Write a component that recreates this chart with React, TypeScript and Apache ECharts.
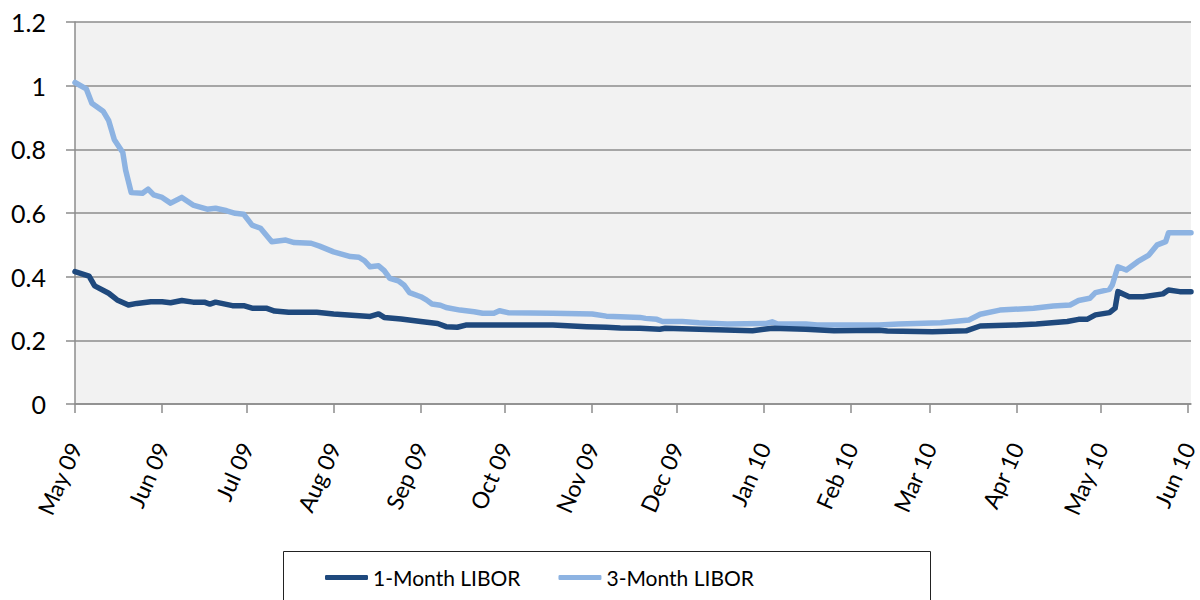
import React, { useEffect, useRef } from "react";
import * as echarts from "echarts";

// ---- Data -------------------------------------------------------------
const axisStartDate = "2009-05-01";
const axisEndDate = "2010-06-02";

const monthTickDates = [
  "2009-05-01", "2009-06-01", "2009-07-01", "2009-08-01", "2009-09-01",
  "2009-10-01", "2009-11-01", "2009-12-01", "2010-01-01", "2010-02-01",
  "2010-03-01", "2010-04-01", "2010-05-01", "2010-06-01",
];
const monthTickLabels = [
  "May 09", "Jun 09", "Jul 09", "Aug 09", "Sep 09", "Oct 09", "Nov 09",
  "Dec 09", "Jan 10", "Feb 10", "Mar 10", "Apr 10", "May 10", "Jun 10",
];

const yTickValues = [0, 0.2, 0.4, 0.6, 0.8, 1, 1.2];

const seriesNames = ["1-Month LIBOR", "3-Month LIBOR"];

const oneMonthDates = [
  "2009-05-01", "2009-05-06", "2009-05-08", "2009-05-13", "2009-05-16",
  "2009-05-20", "2009-05-23", "2009-05-28", "2009-06-01", "2009-06-04",
  "2009-06-08", "2009-06-12", "2009-06-16", "2009-06-18", "2009-06-20",
  "2009-06-26", "2009-06-30", "2009-07-03", "2009-07-08", "2009-07-11",
  "2009-07-16", "2009-07-26", "2009-08-01", "2009-08-14", "2009-08-17",
  "2009-08-19", "2009-08-25", "2009-09-01", "2009-09-07", "2009-09-10",
  "2009-09-14", "2009-09-17", "2009-10-18", "2009-10-30", "2009-11-06",
  "2009-11-11", "2009-11-18", "2009-11-25", "2009-11-27", "2009-12-09",
  "2009-12-28", "2010-01-04", "2010-01-16", "2010-01-26", "2010-02-11",
  "2010-02-14", "2010-03-02", "2010-03-14", "2010-03-19", "2010-03-31",
  "2010-04-08", "2010-04-19", "2010-04-23", "2010-04-26", "2010-04-29",
  "2010-05-04", "2010-05-06", "2010-05-07", "2010-05-11", "2010-05-16",
  "2010-05-23", "2010-05-25", "2010-05-29", "2010-06-02",
];
const oneMonthValues = [
  0.416, 0.402, 0.371, 0.348, 0.327,
  0.311, 0.316, 0.321, 0.321, 0.318,
  0.325, 0.32, 0.32, 0.314, 0.32,
  0.309, 0.309, 0.301, 0.301, 0.292,
  0.288, 0.288, 0.283, 0.275, 0.283,
  0.272, 0.267, 0.259, 0.253, 0.243,
  0.241, 0.248, 0.248, 0.243, 0.241,
  0.239, 0.238, 0.235, 0.238, 0.235,
  0.23, 0.238, 0.235, 0.23, 0.232,
  0.229, 0.227, 0.23, 0.245, 0.248,
  0.251, 0.259, 0.266, 0.266, 0.28,
  0.287, 0.301, 0.353, 0.337, 0.337,
  0.346, 0.358, 0.353, 0.353,
];

const threeMonthDates = [
  "2009-05-01", "2009-05-05", "2009-05-07", "2009-05-11", "2009-05-13",
  "2009-05-15", "2009-05-18", "2009-05-19", "2009-05-21", "2009-05-25",
  "2009-05-27", "2009-05-29", "2009-06-01", "2009-06-04", "2009-06-08",
  "2009-06-12", "2009-06-17", "2009-06-20", "2009-06-24", "2009-06-27",
  "2009-06-30", "2009-07-03", "2009-07-06", "2009-07-10", "2009-07-15",
  "2009-07-18", "2009-07-24", "2009-07-27", "2009-08-01", "2009-08-07",
  "2009-08-10", "2009-08-12", "2009-08-14", "2009-08-17", "2009-08-19",
  "2009-08-21", "2009-08-24", "2009-08-26", "2009-08-28", "2009-09-01",
  "2009-09-03", "2009-09-05", "2009-09-08", "2009-09-10", "2009-09-15",
  "2009-09-20", "2009-09-23", "2009-09-27", "2009-09-29", "2009-10-02",
  "2009-10-18", "2009-11-01", "2009-11-06", "2009-11-11", "2009-11-18",
  "2009-11-20", "2009-11-24", "2009-11-26", "2009-12-03", "2009-12-09",
  "2009-12-19", "2010-01-02", "2010-01-04", "2010-01-06", "2010-01-16",
  "2010-01-20", "2010-02-11", "2010-02-18", "2010-03-05", "2010-03-15",
  "2010-03-19", "2010-03-26", "2010-04-07", "2010-04-14", "2010-04-20",
  "2010-04-23", "2010-04-27", "2010-04-29", "2010-05-04", "2010-05-05",
  "2010-05-07", "2010-05-10", "2010-05-14", "2010-05-18", "2010-05-21",
  "2010-05-24", "2010-05-25", "2010-06-02",
];
const threeMonthValues = [
  1.01, 0.99, 0.945, 0.92, 0.89,
  0.83, 0.79, 0.735, 0.664, 0.662,
  0.675, 0.657, 0.649, 0.631, 0.649,
  0.625, 0.612, 0.615, 0.607, 0.599,
  0.596, 0.562, 0.552, 0.51, 0.515,
  0.507, 0.505, 0.496, 0.478, 0.463,
  0.461, 0.45, 0.431, 0.434, 0.419,
  0.395, 0.387, 0.374, 0.35, 0.337,
  0.327, 0.314, 0.31, 0.303, 0.295,
  0.29, 0.285, 0.285, 0.293, 0.287,
  0.285, 0.283, 0.276, 0.274, 0.272,
  0.269, 0.266, 0.259, 0.259, 0.255,
  0.251, 0.253, 0.258, 0.251, 0.251,
  0.248, 0.248, 0.251, 0.255, 0.264,
  0.282, 0.295, 0.301, 0.308, 0.311,
  0.325, 0.332, 0.35, 0.36, 0.374,
  0.431, 0.421, 0.447, 0.468, 0.5,
  0.51, 0.538, 0.538,
];

// ---- Helpers ----------------------------------------------------------
function dayIndex(s: string): number {
  const [y, m, d] = s.split("-").map(Number);
  const [y0, m0, d0] = axisStartDate.split("-").map(Number);
  return Math.round((Date.UTC(y, m - 1, d) - Date.UTC(y0, m0 - 1, d0)) / 86400000);
}

const FONT = "Lato, 'Noto Sans', sans-serif";

export default function App() {
  const ref = useRef<HTMLDivElement>(null);

  useEffect(() => {
    if (!ref.current) return;
    const chart = echarts.init(ref.current, undefined, { renderer: "svg" });

    const tickDays = monthTickDates.map(dayIndex);
    const labelByDay: Record<number, string> = {};
    tickDays.forEach((d, i) => (labelByDay[d] = monthTickLabels[i]));

    const oneData = oneMonthDates.map((d, i) => [dayIndex(d), oneMonthValues[i]]);
    const threeData = threeMonthDates.map((d, i) => [dayIndex(d), threeMonthValues[i]]);

    const gridColor = "#8c8c8c";

    chart.setOption({
      animation: false,
      backgroundColor: "#ffffff",
      textStyle: { fontFamily: FONT },
      grid: {
        left: 75,
        top: 22,
        right: 9,
        bottom: 196,
        show: true,
        backgroundColor: "#f2f2f2",
        borderWidth: 0,
        containLabel: false,
        outerBoundsMode: "none",
      },
      legend: {
        left: 320,
        top: 562,
        itemWidth: 43,
        itemHeight: 5,
        itemGap: 38,
        icon: "roundRect",
        textStyle: { fontFamily: FONT, fontSize: 21, color: "#000" },
        data: seriesNames,
      },
      graphic: [
        {
          type: "rect",
          shape: { x: 283.5, y: 551.5, width: 647, height: 60 },
          style: { fill: "none", stroke: "#222", lineWidth: 1 },
          silent: true,
        },
      ],
      xAxis: {
        type: "value",
        min: 0,
        max: dayIndex(axisEndDate),
        splitLine: { show: false },
        axisLine: { show: true, onZero: false, lineStyle: { color: gridColor, width: 1.5 } },
        axisTick: {
          show: true,
          length: 9,
          customValues: tickDays,
          lineStyle: { color: gridColor, width: 1.5 },
        },
        axisLabel: {
          customValues: tickDays,
          rotate: 66,
          margin: 40,
          fontSize: 23,
          fontFamily: FONT,
          color: "#000",
          formatter: (v: number) => labelByDay[Math.round(v)] ?? "",
        },
      },
      yAxis: {
        type: "value",
        min: 0,
        max: 1.2,
        interval: 0.2,
        axisLine: { show: true, lineStyle: { color: gridColor, width: 1.5 } },
        axisTick: { show: true, length: 9, lineStyle: { color: gridColor, width: 1.5 } },
        splitLine: { show: true, lineStyle: { color: gridColor, width: 1.5 } },
        axisLabel: {
          margin: 29,
          fontSize: 25,
          fontFamily: FONT,
          color: "#000",
          formatter: (v: number) => {
            const t = yTickValues.find((y) => Math.abs(y - v) < 1e-6);
            return t === undefined ? "" : String(t);
          },
        },
      },
      series: [
        {
          name: seriesNames[0],
          type: "line",
          data: oneData,
          showSymbol: false,
          symbol: "none",
          color: "#1f497d",
          lineStyle: { width: 5.5, color: "#1f497d", cap: "round", join: "round" },
          z: 3,
        },
        {
          name: seriesNames[1],
          type: "line",
          data: threeData,
          showSymbol: false,
          symbol: "none",
          color: "#8db3e2",
          lineStyle: { width: 5.5, color: "#8db3e2", cap: "round", join: "round" },
          z: 2,
        },
      ],
    });

    return () => chart.dispose();
  }, []);

  return (
    <div
      ref={ref}
      style={{ position: "fixed", left: 0, top: 0, width: 1200, height: 600, background: "#fff" }}
    />
  );
}
